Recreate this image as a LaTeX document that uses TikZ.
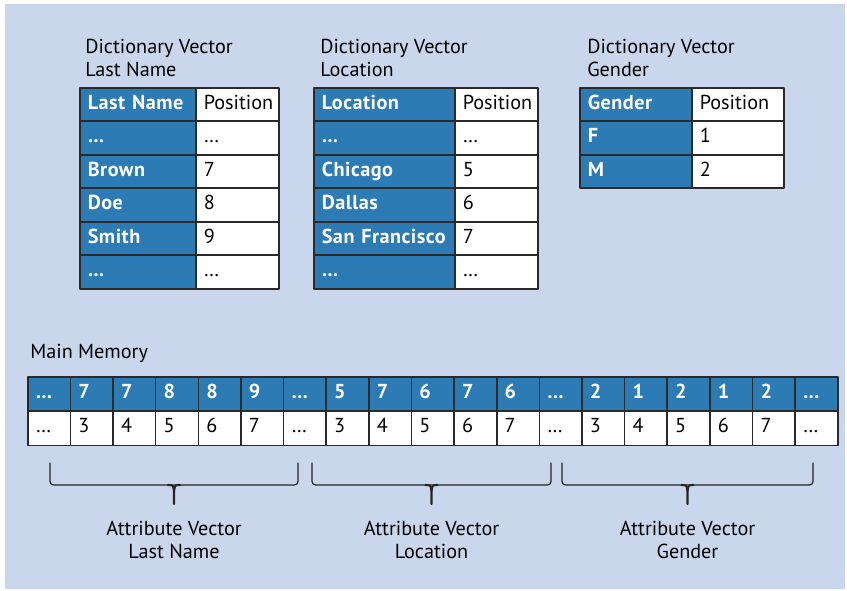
\documentclass[tikz,border=0pt]{standalone}
\usepackage{fontspec}
\setmainfont{PT Sans}
\usetikzlibrary{calc}

\definecolor{bgblue}{HTML}{C9D6EC}
\definecolor{cellblue}{HTML}{2D7BB4}
\definecolor{gridline}{HTML}{2A2A2A}

\begin{document}
\begin{tikzpicture}[font=\fontsize{11.5}{13}\selectfont, line join=round,
    cellbase/.style={draw=gridline, line width=0.9pt, anchor=north west,
      inner sep=0pt, minimum height=0.67cm, text width=#1, align=left,
      text height=0.75em, text depth=0.2em,
      execute at begin node=\hspace*{0.16cm}},
    keycell/.style={cellbase=#1, fill=cellblue, text=white,
      font=\fontsize{11.5}{14}\selectfont\bfseries\addfontfeatures{LetterSpace=2.5}},
    valcell/.style={cellbase=#1, fill=white, text=black},
    memkey/.style={keycell=0.8526cm, minimum height=0.68cm},
    memval/.style={valcell=0.8526cm, minimum height=0.69cm},
    title/.style={anchor=north west, inner sep=0pt, align=left},
    bracepart/.style={black!85, line width=0.7pt, line cap=round},
    stempart/.style={black!85, line width=1.2pt, line cap=round}]

  %% ---- background ----
  \fill[white]  (0,0) rectangle (16.94,11.8);
  \fill[bgblue] (0.10,0.03) rectangle (16.90,11.72);

  %% ---- dictionary vector: last name ----
  \node[title] (ln-title) at (1.70,11.02) {Dictionary Vector\\Last Name};
  \foreach \k/\v [count=\i from 0] in
      {Last Name/Position, \ldots/\dots, Brown/7, Doe/8, Smith/9, \ldots/\dots}{
    \node[keycell=2.32cm] (ln-k\i) at (1.58,{10.06-0.67*\i}) {\k};
    \node[valcell=1.66cm] (ln-v\i) at (3.90,{10.06-0.67*\i}) {\v};
  }

  %% ---- dictionary vector: location ----
  \node[title] (loc-title) at (6.40,11.02) {Dictionary Vector\\Location};
  \foreach \k/\v [count=\i from 0] in
      {Location/Position, \ldots/\dots, Chicago/5, Dallas/6, San Francisco/7, \ldots/\dots}{
    \node[keycell=2.82cm] (loc-k\i) at (6.26,{10.06-0.67*\i}) {\k};
    \node[valcell=1.66cm] (loc-v\i) at (9.08,{10.06-0.67*\i}) {\v};
  }

  %% ---- dictionary vector: gender ----
  \node[title] (gen-title) at (11.74,11.02) {Dictionary Vector\\Gender};
  \foreach \k/\v [count=\i from 0] in {Gender/Position, F/1, M/2}{
    \node[keycell=2.24cm] (gen-k\i) at (11.58,{10.06-0.67*\i}) {\k};
    \node[valcell=1.84cm] (gen-v\i) at (13.82,{10.06-0.67*\i}) {\v};
  }

  %% ---- main memory ----
  \node[title] (mem-title) at (0.60,4.92) {Main Memory};
  \foreach \v [count=\i from 0] in
      {\ldots,7,7,8,8,9,\ldots,5,7,6,7,6,\ldots,2,1,2,1,2,\ldots}{
    \node[memkey] (mk\i) at ({0.54+0.8526*\i},4.28) {\v};
  }
  \foreach \v [count=\i from 0] in
      {\dots,3,4,5,6,7,\dots,3,4,5,6,7,\dots,3,4,5,6,7,\dots}{
    \node[memval] (mv\i) at ({0.54+0.8526*\i},3.60) {\v};
  }

  %% ---- braces + attribute vector labels ----
  \foreach \a/\b/\n/\t in {1.00/5.96/ln/Last Name, 6.24/11.02/loc/Location,
                           11.24/16.26/gen/Gender}{
    \coordinate (br-\n) at ({(\a+\b)/2},1.72);
    \draw[bracepart, rounded corners=2pt]
      (\a,2.54) -- (\a,2.10) -- (\b,2.10) -- (\b,2.54);
    \draw[stempart] ($(br-\n)+(-0.12,0.38)$) .. controls ($(br-\n)+(-0.02,0.38)$)
      .. ($(br-\n)+(0,0.26)$) -- (br-\n);
    \draw[stempart] ($(br-\n)+(0.12,0.38)$) .. controls ($(br-\n)+(0.02,0.38)$)
      .. ($(br-\n)+(0,0.26)$);
    \node[align=center, anchor=north, inner sep=0pt] (av-\n)
      at ($(br-\n)+(0,-0.34)$) {Attribute Vector\\\t};
  }

\end{tikzpicture}
\end{document}
